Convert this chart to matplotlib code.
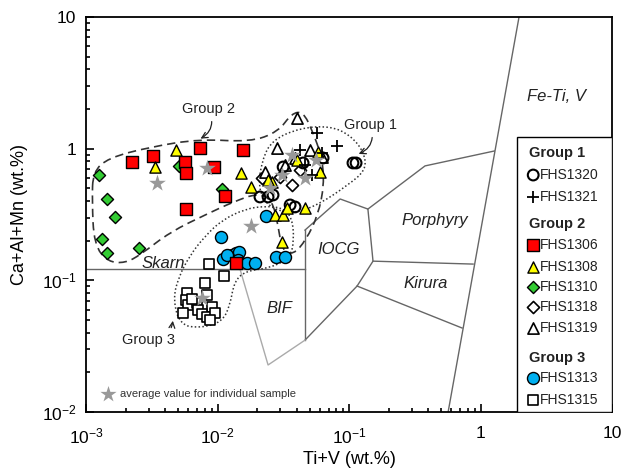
import numpy as np
import matplotlib
matplotlib.use("Agg")
import matplotlib.pyplot as plt
from matplotlib.path import Path
from matplotlib.patches import PathPatch, Rectangle

plt.rcParams['font.family'] = ['Liberation Sans', 'DejaVu Sans']
plt.rcParams['mathtext.fontset'] = 'custom'
plt.rcParams['mathtext.rm'] = 'Liberation Sans'
plt.rcParams['mathtext.it'] = 'Liberation Sans:italic'

# ---- sample data: (Ti+V, Ca+Al+Mn) in wt.% ----
fhs1320_x = [0.107, 0.113, 0.0210, 0.0242, 0.0264, 0.0388, 0.0315, 0.0447, 0.0634, 0.0356]
fhs1320_y = [0.779, 0.779, 0.430, 0.430, 0.445, 0.361, 0.726, 0.779, 0.850, 0.374]

fhs1321_x = [0.0571, 0.0810, 0.0462, 0.0624, 0.0424, 0.0523]
fhs1321_y = [1.316, 1.048, 0.752, 0.928, 0.978, 0.631]

fhs1306_x = [0.00224, 0.00323, 0.00566, 0.00576, 0.00736, 0.00940, 0.01564, 0.00576, 0.0114, 0.0138]
fhs1306_y = [0.793, 0.880, 0.793, 0.654, 1.012, 0.726, 0.978, 0.348, 0.440, 0.136]

fhs1308_x = [0.00484, 0.00335, 0.0151, 0.0180, 0.0260, 0.0274, 0.0315, 0.0338, 0.0462,
             0.0309, 0.0602, 0.0581, 0.0402, 0.0242]
fhs1308_y = [0.978, 0.726, 0.654, 0.512, 0.559, 0.314, 0.314, 0.355, 0.355,
             0.196, 0.665, 0.944, 0.821, 0.579]

fhs1310_x = [0.00126, 0.00145, 0.00166, 0.00132, 0.00145, 0.00253, 0.0051, 0.0108]
fhs1310_y = [0.631, 0.415, 0.303, 0.206, 0.162, 0.176, 0.739, 0.494]

fhs1318_x = [0.0368, 0.0299, 0.0424, 0.0218]
fhs1318_y = [0.530, 0.610, 0.689, 0.599]

fhs1319_x = [0.0402, 0.0284, 0.0230, 0.0388, 0.0505, 0.0624, 0.0326]
fhs1319_y = [1.711, 1.012, 0.665, 0.850, 0.978, 0.865, 0.752]

fhs1313_x = [0.0234, 0.0106, 0.0110, 0.0129, 0.0138, 0.0146, 0.0143, 0.0168, 0.0193,
             0.0279, 0.0326, 0.0118]
fhs1313_y = [0.308, 0.214, 0.145, 0.156, 0.162, 0.164, 0.143, 0.136, 0.136,
             0.151, 0.151, 0.156]

fhs1315_x = [0.00862, 0.0112, 0.00804, 0.00586, 0.00832, 0.00576, 0.00597, 0.00698,
             0.00908, 0.00547, 0.00711, 0.00762, 0.00832, 0.00957, 0.00877, 0.0064]
fhs1315_y = [0.133, 0.108, 0.0956, 0.0802, 0.0774, 0.0710, 0.0650, 0.0674,
             0.0628, 0.0566, 0.0596, 0.0556, 0.0527, 0.0566, 0.0500, 0.0722]

# sample averages
avg_x = [0.00347, 0.00832, 0.0180, 0.00762, 0.0309, 0.0368, 0.0561, 0.0462, 0.0251]
avg_y = [0.549, 0.714, 0.259, 0.0735, 0.631, 0.896, 0.821, 0.599, 0.503]

# ---- discrimination field boundaries ----
fields = [
    ([0.001, 0.0462], [0.122, 0.122]),                       # skarn floor
    ([0.0462, 0.0462], [0.0352, 0.241]),                     # IOCG left
    ([0.0462, 0.0855, 0.139, 0.152, 0.115, 0.0462],
     [0.241, 0.415, 0.348, 0.140, 0.0906, 0.0352]),          # IOCG
    ([0.139, 0.378, 1.27], [0.348, 0.74, 0.96]),             # porphyry top
    ([0.152, 0.877], [0.140, 0.133]),                        # kiruna top
    ([0.115, 0.723], [0.0906, 0.0435]),                      # kiruna bottom
    ([1.96, 0.566], [10, 0.01]),                             # Fe-Ti, V
]
bif_x = [0.0148, 0.0242, 0.0462]
bif_y = [0.122, 0.0228, 0.0352]

field_labels = [("Fe-Ti, V", 3.75, 2.47), ("Porphyry", 0.451, 0.287), ("IOCG", 0.0824, 0.173),
                ("Kirura", 0.385, 0.094), ("BIF", 0.0294, 0.0617), ("Skarn", 0.00385, 0.1355)]

# hand-drawn group outlines
group1_x = [0.02178, 0.026, 0.04236, 0.0717, 0.1018, 0.130, 0.1346, 0.0982, 0.0581, 0.0368, 0.0242, 0.0203]
group1_y = [0.821, 1.164, 1.436, 1.487, 1.27, 0.944, 0.689, 0.530, 0.3737, 0.3193, 0.361, 0.503]

group2_x = [0.00113, 0.00147, 0.00307, 0.00736, 0.01766, 0.0288, 0.0368, 0.0447, 0.0523, 0.0624,
            0.0646, 0.0581, 0.0471, 0.0375, 0.0309, 0.0288, 0.026, 0.0203, 0.01312, 0.00832,
            0.00435, 0.00258, 0.00198, 0.00147, 0.00115, 0.00111]
group2_y = [0.665, 0.850, 1.03, 1.185, 1.124, 1.34, 1.866, 1.90, 1.387, 0.850,
            0.530, 0.314, 0.2027, 0.1559, 0.1701, 0.2634, 0.4077, 0.461, 0.394, 0.3193,
            0.233, 0.1559, 0.1355, 0.138, 0.186, 0.4077]

group3_x = [0.00459, 0.00501, 0.00618, 0.00804, 0.01082, 0.01619, 0.02296, 0.03148, 0.0368,
            0.0382, 0.03556, 0.02506, 0.01619, 0.01335, 0.01245, 0.01082, 0.00736, 0.00519]
group3_y = [0.0710, 0.1043, 0.1559, 0.2173, 0.2874, 0.3484, 0.367, 0.3546, 0.2978,
            0.2027, 0.148, 0.1242, 0.1179, 0.0972, 0.0650, 0.0483, 0.0435, 0.0459]


def outline(xs, ys):
    # closed quadratic bezier through edge midpoints (geometric means on log axes)
    n = len(xs)
    pts = list(zip(xs, ys))
    mid = lambda a, b: (np.sqrt(a[0] * b[0]), np.sqrt(a[1] * b[1]))
    start = mid(pts[-1], pts[0])
    verts, codes = [start], [Path.MOVETO]
    for i in range(n):
        verts += [pts[i], mid(pts[i], pts[(i + 1) % n])]
        codes += [Path.CURVE3, Path.CURVE3]
    return Path(verts, codes)


fig = plt.figure(figsize=(6.33, 4.71), dpi=100)
ax = fig.add_axes([0.136, 0.125, 0.831, 0.839])
ax.set_xscale('log')
ax.set_yscale('log')
ax.set_xlim(1e-3, 10)
ax.set_ylim(1e-2, 10)

for fx, fy in fields:
    ax.plot(fx, fy, color='#666666', lw=1.0, zorder=1)
ax.plot(bif_x, bif_y, color='#aaaaaa', lw=1.0, zorder=1)

for name, lx, ly in field_labels:
    ax.text(lx, ly, name, fontsize=12, style='italic', color='#222222',
            ha='center', va='center', zorder=2)

ax.add_patch(PathPatch(outline(group2_x, group2_y), fill=False, ec='#333333', lw=1.2,
                       ls=(0, (5, 3)), zorder=2))
ax.add_patch(PathPatch(outline(group1_x, group1_y), fill=False, ec='#333333', lw=1.1,
                       ls=(0, (1, 1.5)), zorder=2))
ax.add_patch(PathPatch(outline(group3_x, group3_y), fill=False, ec='#333333', lw=1.1,
                       ls=(0, (1, 1.5)), zorder=2))

styles = {
    'FHS1320': dict(marker='o', facecolor='none', edgecolor='black', s=60, linewidths=1.5),
    'FHS1321': dict(marker='+', color='black', s=70, linewidths=1.3),
    'FHS1306': dict(marker='s', facecolor='#ff0000', edgecolor='black', s=75, linewidths=1.0),
    'FHS1308': dict(marker='^', facecolor='#ffff00', edgecolor='black', s=65, linewidths=1.0),
    'FHS1310': dict(marker='D', facecolor='#33cc33', edgecolor='black', s=38, linewidths=1.0),
    'FHS1318': dict(marker='D', facecolor='white', edgecolor='black', s=38, linewidths=1.2),
    'FHS1319': dict(marker='^', facecolor='white', edgecolor='black', s=65, linewidths=1.2),
    'FHS1313': dict(marker='o', facecolor='#00b0f0', edgecolor='black', s=75, linewidths=1.0),
    'FHS1315': dict(marker='s', facecolor='white', edgecolor='black', s=60, linewidths=1.2),
}
series = [('FHS1315', fhs1315_x, fhs1315_y), ('FHS1313', fhs1313_x, fhs1313_y),
          ('FHS1310', fhs1310_x, fhs1310_y), ('FHS1306', fhs1306_x, fhs1306_y),
          ('FHS1318', fhs1318_x, fhs1318_y), ('FHS1319', fhs1319_x, fhs1319_y),
          ('FHS1320', fhs1320_x, fhs1320_y), ('FHS1308', fhs1308_x, fhs1308_y),
          ('FHS1321', fhs1321_x, fhs1321_y)]
for name, sx, sy in series:
    ax.scatter(sx, sy, zorder=3, **styles[name])
ax.scatter(avg_x, avg_y, marker='*', color='#999999', s=160, linewidths=0, zorder=4)

# group call-outs
arrow = dict(arrowstyle='->', color='#222222', lw=0.9, connectionstyle='arc3,rad=-0.5')
ax.annotate('Group 2', xy=(0.00711, 1.164), xytext=(0.00848, 2.0), fontsize=10.5,
            ha='center', va='center', color='#222222', arrowprops=arrow, zorder=5)
ax.annotate('Group 1', xy=(0.113, 0.896), xytext=(0.1445, 1.514), fontsize=10.5,
            ha='center', va='center', color='#222222', arrowprops=arrow, zorder=5)
ax.annotate('Group 3', xy=(0.00459, 0.0518), xytext=(0.00296, 0.0353), fontsize=10.5,
            ha='center', va='center', color='#222222',
            arrowprops=dict(arrowstyle='->', color='#222222', lw=0.9,
                            connectionstyle='arc3,rad=0.5'), zorder=5)

# average marker note
ax.scatter([0.042], [0.045], transform=ax.transAxes, marker='*', color='#999999',
           s=150, linewidths=0, clip_on=False)
ax.text(0.065, 0.045, 'average value for individual sample', transform=ax.transAxes,
        fontsize=8, color='#333333', va='center')

# legend panel
ax.add_patch(Rectangle((0.819, 0), 0.181, 0.696, transform=ax.transAxes,
                       facecolor='white', edgecolor='black', lw=1.0, zorder=6))
legend_rows = [('Group 1', None, 0.656), ('FHS1320', 'FHS1320', 0.600), ('FHS1321', 'FHS1321', 0.544),
               ('Group 2', None, 0.476), ('FHS1306', 'FHS1306', 0.423), ('FHS1308', 'FHS1308', 0.367),
               ('FHS1310', 'FHS1310', 0.316), ('FHS1318', 'FHS1318', 0.266),
               ('FHS1319', 'FHS1319', 0.213), ('Group 3', None, 0.137),
               ('FHS1313', 'FHS1313', 0.086), ('FHS1315', 'FHS1315', 0.030)]
for label, key, ypos in legend_rows:
    if key is None:
        ax.text(0.842, ypos, label, transform=ax.transAxes, fontsize=10.5, fontweight='bold',
                va='center', color='#222222', zorder=7)
    else:
        ax.scatter([0.850], [ypos], transform=ax.transAxes, clip_on=False, zorder=7,
                   **styles[key])
        ax.text(0.862, ypos, label, transform=ax.transAxes, fontsize=10, va='center',
                color='#222222', zorder=7)

# axes styling
ax.set_xticks([1e-3, 1e-2, 1e-1, 1, 10])
ax.set_xticklabels(['$10^{-3}$', '$10^{-2}$', '$10^{-1}$', '1', '10'])
ax.set_yticks([1e-2, 1e-1, 1, 10])
ax.set_yticklabels(['$10^{-2}$', '$10^{-1}$', '1', '10'])
ax.tick_params(which='both', direction='in', top=False, right=False, width=1.2,
               labelsize=12.5, colors='black')
ax.tick_params(which='major', length=6, pad=7)
ax.tick_params(axis='x', which='major', pad=10)
ax.tick_params(which='minor', length=3)
for sp in ax.spines.values():
    sp.set_linewidth(1.3)

ax.set_xlabel('Ti+V (wt.%)', fontsize=13, labelpad=4)
ax.set_ylabel('Ca+Al+Mn (wt.%)', fontsize=13, labelpad=10)

fig.savefig('out.png', dpi=100)
